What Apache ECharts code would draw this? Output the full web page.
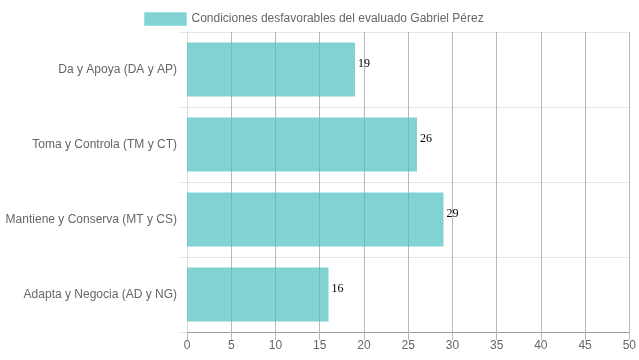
<!DOCTYPE html>
<html>
<head>
<meta charset="utf-8">
<script src="https://cdn.jsdelivr.net/npm/echarts@6/dist/echarts.min.js"></script>
<style>html,body{margin:0;padding:0;background:#fff;}#c{width:639px;height:360px;}</style>
</head>
<body>
<div id="c"></div>
<script>
const categories = ['Da y Apoya (DA y AP)', 'Toma y Controla (TM y CT)', 'Mantiene y Conserva (MT y CS)', 'Adapta y Negocia (AD y NG)'];
const values = [19, 26, 29, 16];
const seriesName = 'Condiciones desfavorables del evaluado Gabriel Pérez';

const chart = echarts.init(document.getElementById('c'), null, {renderer: 'canvas'});
chart.setOption({
  animation: false,
  legend: {
    top: 7, left: 139,
    icon: 'rect',
    itemWidth: 42, itemHeight: 13,
    itemGap: 6,
    textStyle: {fontFamily: 'Liberation Sans, Arial', fontSize: 12, color: '#666'},
    data: [{name: seriesName, itemStyle: {color: 'rgba(75,192,192,0.7)', borderColor: 'rgba(75,192,192,0.25)', borderWidth: 1}}]
  },
  grid: {left: 187, right: 9, top: 32, bottom: 28, containLabel: false},
  xAxis: {
    type: 'value', min: 0, max: 50, interval: 5,
    axisLine: {show: true, lineStyle: {color: '#999', width: 1}},
    axisTick: {show: true, length: 8, lineStyle: {color: '#bbb'}},
    axisLabel: {fontFamily: 'Liberation Sans, Arial', fontSize: 12, color: '#666', margin: 8},
    splitLine: {show: true, lineStyle: {color: '#b8b8b8', width: 1}}
  },
  yAxis: {
    type: 'category', inverse: true, data: categories,
    axisLine: {show: true, lineStyle: {color: '#ddd'}},
    axisTick: {show: true, length: 8, lineStyle: {color: '#e6e6e6'}},
    axisLabel: {fontFamily: 'Liberation Sans, Arial', fontSize: 12, color: '#666', margin: 10},
    splitLine: {show: true, lineStyle: {color: '#e6e6e6'}}
  },
  series: [{
    name: seriesName, type: 'bar', data: values,
    barCategoryGap: '28%',
    itemStyle: {color: 'rgba(75,192,192,0.7)'},
    label: {show: true, position: 'right', distance: 3, offset: [0, -6],
      fontFamily: 'Liberation Serif, Times New Roman', fontSize: 12, color: '#000'}
  }]
});
</script>
</body>
</html>
